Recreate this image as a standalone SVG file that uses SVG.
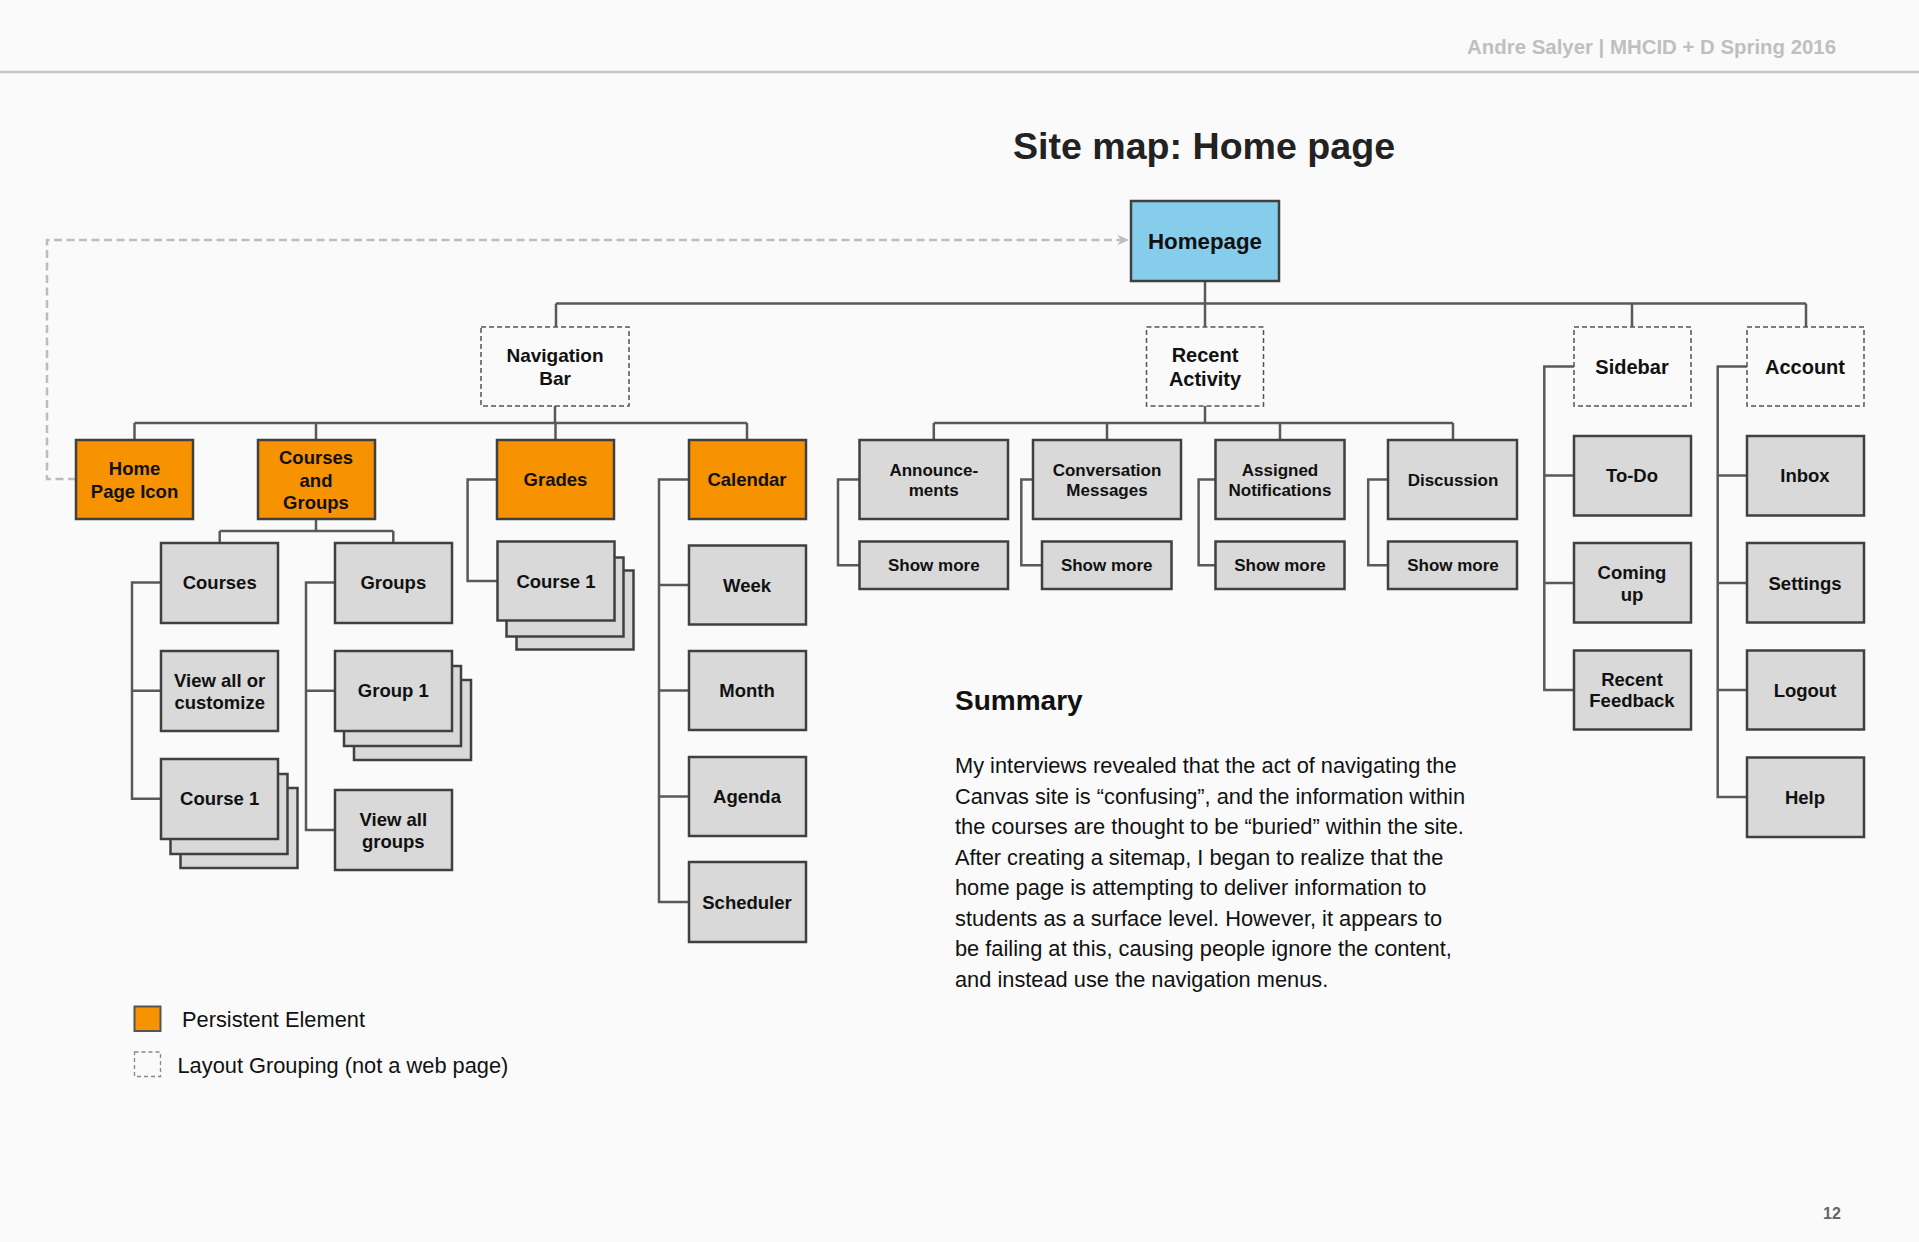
<svg xmlns="http://www.w3.org/2000/svg" width="1919" height="1242" viewBox="0 0 1919 1242">
<style>
  .bg{fill:#fafafa}
  .box{stroke:#404040;stroke-width:2.5}
  .g{fill:#d9d9d9}
  .o{fill:#f79200}
  .b{fill:#86cdec}
  .d{fill:none;stroke:#555;stroke-width:1.5;stroke-dasharray:5 3}
  .t{font-family:"Liberation Sans",Arial,sans-serif;font-weight:bold;font-size:18.5px;fill:#111;text-anchor:middle}
  .s17{font-size:17px}
  .s19{font-size:19px}
  .s20{font-size:20px}
  .s22{font-size:22.3px}
  .c{fill:none;stroke:#595959;stroke-width:2.5}
  .ret{fill:none;stroke:#bdbdbd;stroke-width:2.5;stroke-dasharray:8 4.5}
  .body{font-family:"Liberation Sans",Arial,sans-serif;font-size:21.8px;fill:#111}
</style>
<defs>
  <marker id="arr" markerWidth="16" markerHeight="14" refX="13" refY="7" orient="auto" markerUnits="userSpaceOnUse">
    <path d="M1,1.5 L13,7 L1,12.5 L5,7 Z" fill="#bdbdbd"/>
  </marker>
</defs>
<rect class="bg" x="0" y="0" width="1919" height="1242"/>

<!-- header -->
<text x="1836" y="54" font-family="Liberation Sans, Arial, sans-serif" font-weight="bold" font-size="20.4" fill="#bfbfbf" text-anchor="end">Andre Salyer | MHCID + D Spring 2016</text>
<line x1="0" y1="72" x2="1919" y2="72" stroke="#c4c4c4" stroke-width="2.5"/>
<text x="1204" y="159" font-family="Liberation Sans, Arial, sans-serif" font-weight="bold" font-size="37.6" fill="#222" text-anchor="middle">Site map: Home page</text>

<!-- connectors -->
<g id="connectors">
  <path class="ret" d="M76,479 H47 V240 H1129" marker-end="url(#arr)"/>
  <path class="c" d="M1205,281 V303.5 M556,303.5 H1806 M556,303.5 V327 M1205,303.5 V327 M1632,303.5 V327 M1806,303.5 V327"/>
  <path class="c" d="M555,406 V423 M134.5,423 H747 M134.5,423 V440 M316,423 V440 M555.5,423 V440 M747,423 V440"/>
  <path class="c" d="M316,519 V531 M219.7,531 H393.3 M219.7,531 V543 M393.3,531 V543"/>
  <path class="c" d="M161,582.6 H132 V798.7 H161 M132,690.7 H161"/>
  <path class="c" d="M335,582.6 H306 V830 H335 M306,690.7 H335"/>
  <path class="c" d="M497,479.5 H467.6 V581 H497.5"/>
  <path class="c" d="M689,479.5 H659 V902 H689 M659,585 H689 M659,690.5 H689 M659,796.5 H689"/>
  <path class="c" d="M1205,406 V423 M933.8,423 H1453 M933.8,423 V440 M1107,423 V440 M1280,423 V440 M1453,423 V440"/>
  <path class="c" d="M859.5,479.5 H838 V565.3 H859.5"/>
  <path class="c" d="M1033,479.5 H1021.3 V565.3 H1042"/>
  <path class="c" d="M1215.5,479.5 H1198.6 V565.3 H1215.5"/>
  <path class="c" d="M1388,479.5 H1368.2 V565.3 H1388"/>
  <path class="c" d="M1574,366.5 H1544.3 V690 H1574 M1544.3,475.5 H1574 M1544.3,583 H1574"/>
  <path class="c" d="M1747,366.5 H1717.7 V797 H1747 M1717.7,475.5 H1747 M1717.7,583 H1747 M1717.7,690 H1747"/>
</g>

<!-- nodes -->
<g id="homepage"><rect class="box b" x="1131" y="201" width="148" height="80"/><text class="t s22" x="1205" y="249">Homepage</text></g>
<g id="navbar"><rect class="d" x="481" y="327" width="148" height="79"/><text class="t s19" x="555" y="362">Navigation</text><text class="t s19" x="555" y="385">Bar</text></g>
<g id="recentactivity"><rect class="d" x="1146.5" y="327" width="117" height="79"/><text class="t s20" x="1205" y="362">Recent</text><text class="t s20" x="1205" y="386">Activity</text></g>
<g id="sidebar"><rect class="d" x="1574" y="327" width="117" height="79"/><text class="t s20" x="1632" y="373.5">Sidebar</text></g>
<g id="account"><rect class="d" x="1747" y="327" width="117" height="79"/><text class="t s20" x="1805" y="373.5">Account</text></g>

<g id="homepageicon"><rect class="box o" x="76" y="440" width="117" height="79"/><text class="t" x="134.5" y="475">Home</text><text class="t" x="134.5" y="498">Page Icon</text></g>
<g id="coursesandgroups"><rect class="box o" x="258" y="440" width="117" height="79"/><text class="t" x="316" y="464">Courses</text><text class="t" x="316" y="486.5">and</text><text class="t" x="316" y="509">Groups</text></g>
<g id="grades"><rect class="box o" x="497" y="440" width="117" height="79"/><text class="t" x="555.5" y="486">Grades</text></g>
<g id="calendar"><rect class="box o" x="689" y="440" width="117" height="79"/><text class="t" x="747" y="486">Calendar</text></g>

<g id="courses"><rect class="box g" x="161" y="543" width="117" height="80"/><text class="t" x="219.7" y="589">Courses</text></g>
<g id="groups"><rect class="box g" x="335" y="543" width="117" height="80"/><text class="t" x="393.3" y="589">Groups</text></g>
<g id="viewallcustomize"><rect class="box g" x="161" y="651" width="117" height="80"/><text class="t" x="219.7" y="687">View all or</text><text class="t" x="219.7" y="708.5">customize</text></g>
<g id="course1a"><rect class="box g" x="180.5" y="788" width="117" height="80"/><rect class="box g" x="170.5" y="774" width="117" height="80"/><rect class="box g" x="161" y="759" width="117" height="80"/><text class="t" x="219.7" y="805.2">Course 1</text></g>
<g id="group1"><rect class="box g" x="354" y="680" width="117" height="80"/><rect class="box g" x="344" y="666" width="117" height="80"/><rect class="box g" x="335" y="651" width="117" height="80"/><text class="t" x="393.3" y="697">Group 1</text></g>
<g id="viewallgroups"><rect class="box g" x="335" y="790" width="117" height="80"/><text class="t" x="393.3" y="826">View all</text><text class="t" x="393.3" y="847.5">groups</text></g>
<g id="course1b"><rect class="box g" x="516.5" y="570.5" width="117" height="79"/><rect class="box g" x="506.5" y="557.5" width="117" height="79"/><rect class="box g" x="497.5" y="541.5" width="117" height="79"/><text class="t" x="556" y="587.5">Course 1</text></g>

<g id="week"><rect class="box g" x="689" y="545.5" width="117" height="79"/><text class="t" x="747" y="591.5">Week</text></g>
<g id="month"><rect class="box g" x="689" y="651" width="117" height="79"/><text class="t" x="747" y="697">Month</text></g>
<g id="agenda"><rect class="box g" x="689" y="757" width="117" height="79"/><text class="t" x="747" y="803">Agenda</text></g>
<g id="scheduler"><rect class="box g" x="689" y="862" width="117" height="80"/><text class="t" x="747" y="908.5">Scheduler</text></g>

<g id="announcements"><rect class="box g" x="859.5" y="440" width="148.5" height="79"/><text class="t s17" x="933.8" y="475.7">Announce-</text><text class="t s17" x="933.8" y="496.3">ments</text></g>
<g id="announcements-more"><rect class="box g" x="859.5" y="541.5" width="148.5" height="47.5"/><text class="t s17" x="933.8" y="571.3">Show more</text></g>
<g id="conversation"><rect class="box g" x="1033" y="440" width="148" height="79"/><text class="t s17" x="1107" y="475.7">Conversation</text><text class="t s17" x="1107" y="496.3">Messages</text></g>
<g id="conversation-more"><rect class="box g" x="1042" y="541.5" width="129.5" height="47.5"/><text class="t s17" x="1106.7" y="571.3">Show more</text></g>
<g id="assigned"><rect class="box g" x="1215.5" y="440" width="129" height="79"/><text class="t s17" x="1280" y="475.7">Assigned</text><text class="t s17" x="1280" y="496.3">Notifications</text></g>
<g id="assigned-more"><rect class="box g" x="1215.5" y="541.5" width="129" height="47.5"/><text class="t s17" x="1280" y="571.3">Show more</text></g>
<g id="discussion"><rect class="box g" x="1388" y="440" width="129" height="79"/><text class="t s17" x="1453" y="485.5">Discussion</text></g>
<g id="discussion-more"><rect class="box g" x="1388" y="541.5" width="129" height="47.5"/><text class="t s17" x="1453" y="571.3">Show more</text></g>

<g id="todo"><rect class="box g" x="1574" y="436" width="117" height="79.5"/><text class="t" x="1632" y="482">To-Do</text></g>
<g id="comingup"><rect class="box g" x="1574" y="543" width="117" height="79.5"/><text class="t" x="1632" y="579">Coming</text><text class="t" x="1632" y="601">up</text></g>
<g id="recentfeedback"><rect class="box g" x="1574" y="650.5" width="117" height="79"/><text class="t" x="1632" y="686">Recent</text><text class="t" x="1632" y="707">Feedback</text></g>
<g id="inbox"><rect class="box g" x="1747" y="436" width="117" height="79.5"/><text class="t" x="1805" y="482">Inbox</text></g>
<g id="settings"><rect class="box g" x="1747" y="543" width="117" height="79.5"/><text class="t" x="1805" y="589.5">Settings</text></g>
<g id="logout"><rect class="box g" x="1747" y="650.5" width="117" height="79"/><text class="t" x="1805" y="696.5">Logout</text></g>
<g id="help"><rect class="box g" x="1747" y="757.5" width="117" height="79.5"/><text class="t" x="1805" y="803.5">Help</text></g>

<!-- summary -->
<text x="955" y="710" font-family="Liberation Sans, Arial, sans-serif" font-weight="bold" font-size="28" fill="#111">Summary</text>
<text class="body" x="955" y="773.3">My interviews revealed that the act of navigating the</text>
<text class="body" x="955" y="803.8">Canvas site is “confusing”, and the information within</text>
<text class="body" x="955" y="834.3">the courses are thought to be “buried” within the site.</text>
<text class="body" x="955" y="864.8">After creating a sitemap, I began to realize that the</text>
<text class="body" x="955" y="895.3">home page is attempting to deliver information to</text>
<text class="body" x="955" y="925.8">students as a surface level. However, it appears to</text>
<text class="body" x="955" y="956.3">be failing at this, causing people ignore the content,</text>
<text class="body" x="955" y="986.8">and instead use the navigation menus.</text>

<!-- legend -->
<rect x="134.5" y="1006.5" width="26" height="24.5" fill="#f79200" stroke="#555" stroke-width="2"/>
<text class="body" x="182" y="1027">Persistent Element</text>
<rect x="134.5" y="1052" width="26" height="24.5" fill="none" stroke="#888" stroke-width="1.3" stroke-dasharray="4 3"/>
<text class="body" x="177.5" y="1072.7">Layout Grouping (not a web page)</text>

<text x="1832" y="1219" font-family="Liberation Sans, Arial, sans-serif" font-weight="bold" font-size="16" fill="#666" text-anchor="middle">12</text>
</svg>
